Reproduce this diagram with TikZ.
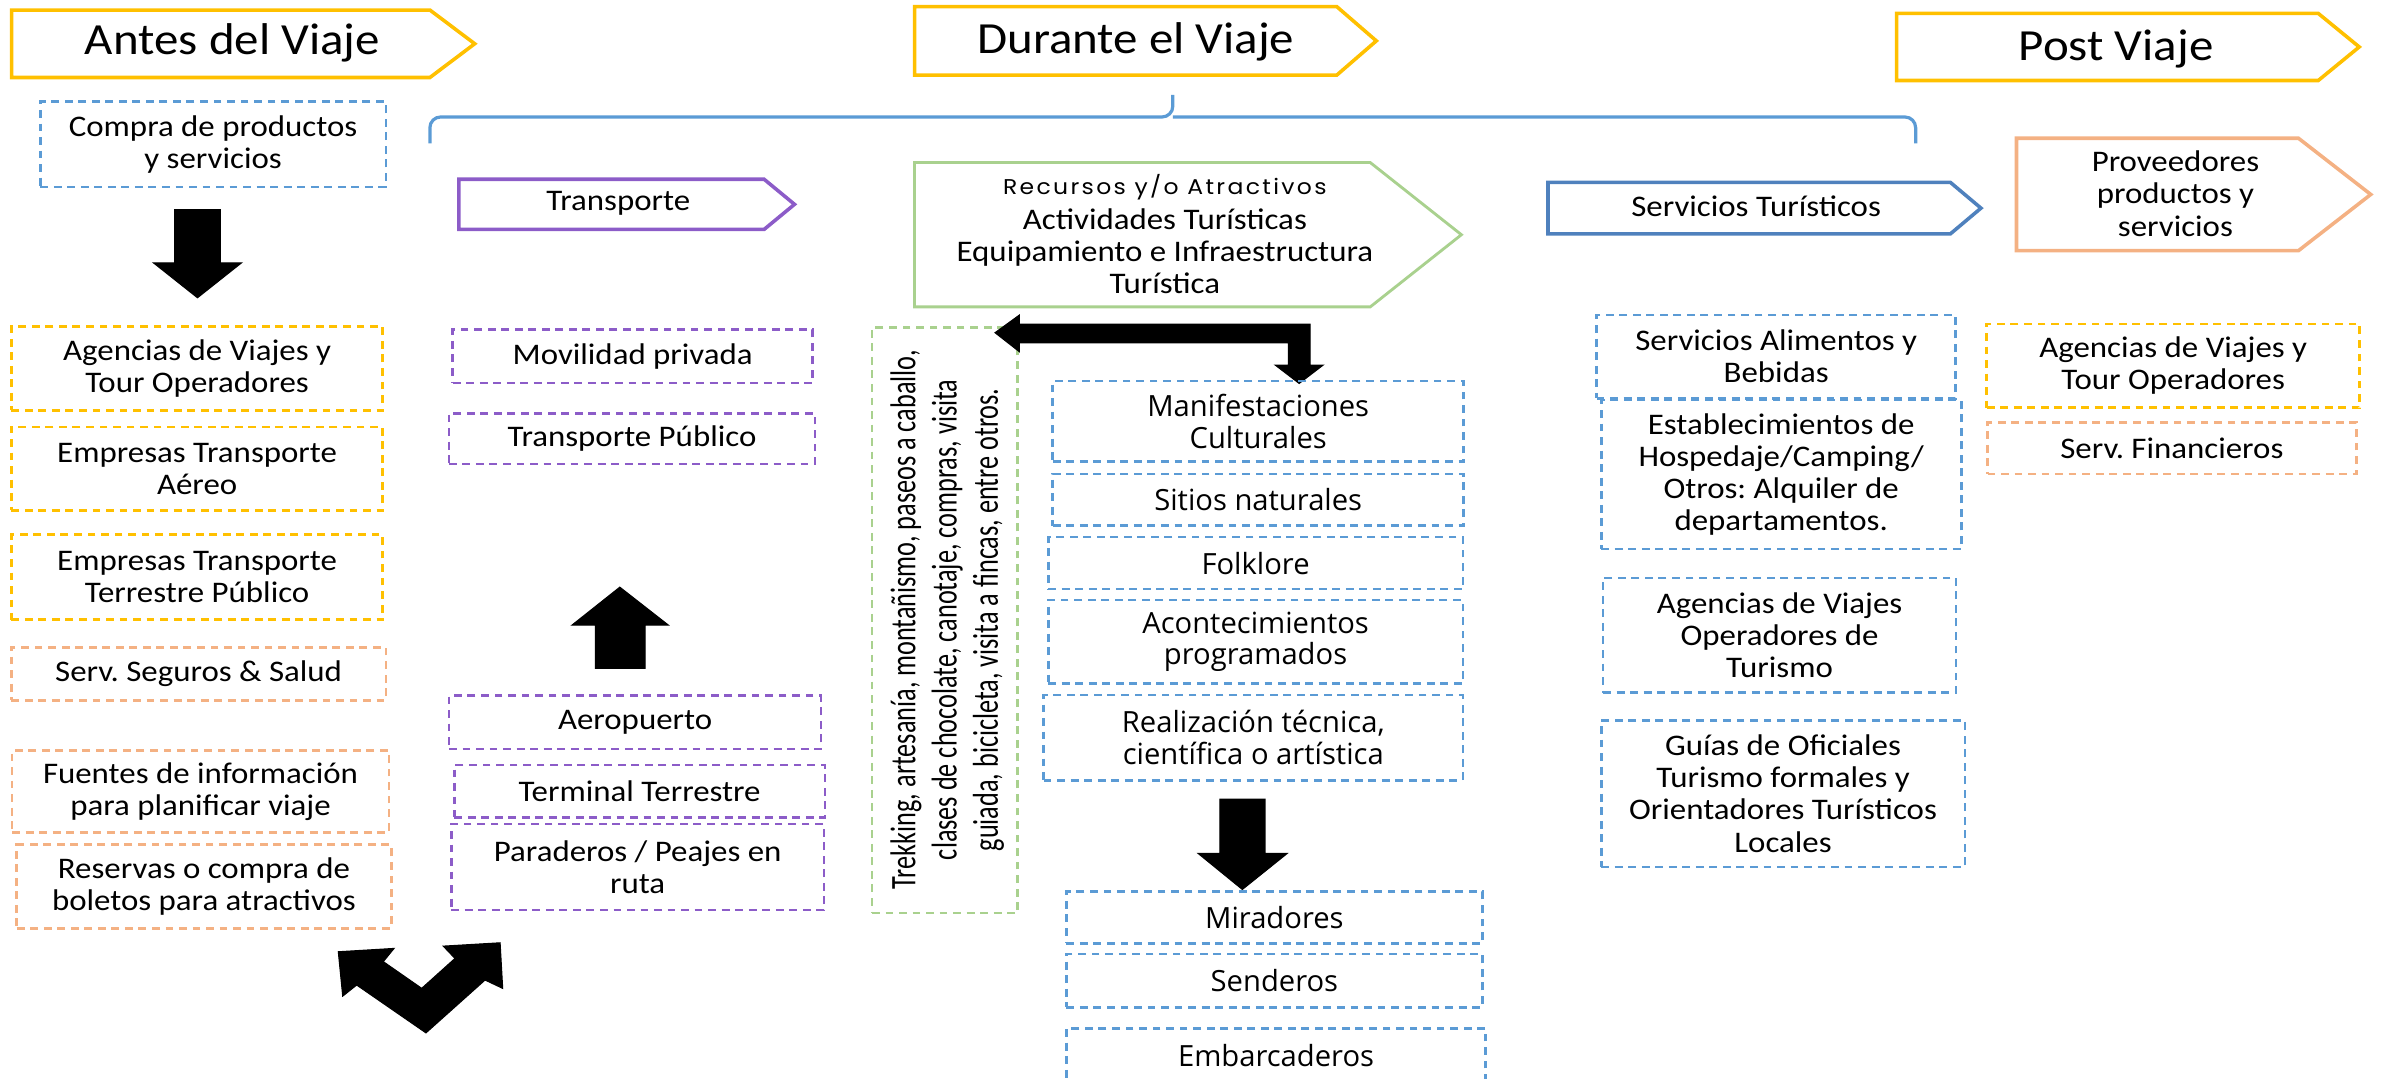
\documentclass[tikz,border=0pt]{standalone}
\usepackage{fontspec}
\setmainfont{Carlito}[FakeStretch=1.1]
\newfontfamily\osfont{Open Sans}
\newfontfamily\popfont{Poppins}[FakeStretch=1.1,LetterSpace=11]
\newfontfamily\condfont{Carlito}[FakeStretch=0.73]
\frenchspacing
\definecolor{gold}{HTML}{FFC000}
\definecolor{peach}{HTML}{F4B183}
\definecolor{bluec}{HTML}{5B9BD5}
\definecolor{bluedk}{HTML}{4F81BD}
\definecolor{purp}{HTML}{8C5CC8}
\definecolor{greenc}{HTML}{A9D18E}
\newcommand\bodyfont{\fontsize{8.4pt}{9pt}\selectfont}
\newcommand\hdrfont{\fontsize{12.5pt}{14pt}\selectfont}
% box from corner (x1,y1) to (x2,y2): style, name, x1, y1, x2, y2, text
\newcommand\bxnode[7]{\node[#1, minimum width={(#5-#3)*0.015cm}, minimum height={(#6-#4)*0.015cm}] (#2) at ({(#3+#5)/2},{(#4+#6)/2}) {#7};}
\tikzset{
  dbox/.style={draw, dash pattern=on 2.2pt off 1.6pt, line width=0.75pt, inner sep=0pt, align=center, font=\bodyfont},
  ybox/.style={dbox, draw=gold},
  pbox/.style={dbox, draw=peach},
  bbox/.style={dbox, draw=bluec},
  vbox/.style={dbox, draw=purp},
  gbox/.style={dbox, draw=greenc},
  mbox/.style={bbox, font=\osfont\fontsize{8.2pt}{8.9pt}\selectfont},
  hdr/.style={line width=1pt, line join=miter},
  hdrtext/.style={font=\hdrfont, inner sep=0pt},
  lbl/.style={font=\bodyfont, align=center, inner sep=0pt},
  blk/.style={fill=black, draw=black, line width=0.3pt, line join=miter},
  brace/.style={draw=bluec, line width=0.9pt, rounded corners=3}
}
\begin{document}
\begin{tikzpicture}[x=0.015cm, y=-0.015cm]
\useasboundingbox (0,0) rectangle (1568,710);

% ---------- headers ----------
\draw[hdr, draw=gold] (7.6,6.6) -- (283,6.6) -- (312.5,28.8) -- (283,51) -- (7.6,51) -- cycle;
\node[hdrtext] (antes) at (153,28.5) {Antes del Viaje};
\draw[hdr, draw=gold] (602,4.4) -- (880,4.4) -- (906,26.9) -- (880,49.4) -- (602,49.4) -- cycle;
\node[hdrtext] (durante) at (747.7,27.4) {Durante el Viaje};
\draw[hdr, draw=gold] (1248.5,8.8) -- (1526,8.8) -- (1553,30.9) -- (1526,53) -- (1248.5,53) -- cycle;
\node[hdrtext] (post) at (1393,32.5) {Post Viaje};

% ---------- brace ----------
\coordinate (brL) at (283,94.4);
\coordinate (brR) at (1261,94.4);
\coordinate (brC) at (772,62.5);
\draw[brace] (brL) -- (283,77) -- (772,77) -- (brC);
\draw[brace] (brR) -- (1261,77) -- (772,77);

% ---------- Antes column ----------
\bxnode{bbox}{compra}{26.5}{67}{254}{123}{Compra de productos\\y servicios}
\fill[blk] (115,138) -- (145,138) -- (145,173) -- (159,173) -- (130,196) -- (101,173) -- (115,173) -- cycle;
\bxnode{ybox}{ag1}{7.5}{215}{252}{270}{Agencias de Viajes y\\Tour Operadores}
\bxnode{ybox}{ea}{7.5}{281}{252}{336}{Empresas Transporte\\Aéreo}
\bxnode{ybox}{et}{7.5}{352}{252}{408}{Empresas Transporte\\Terrestre Público}
\bxnode{pbox}{ss}{7.5}{426}{254}{461}{Serv. Seguros \& Salud}
\bxnode{pbox}{fi}{8}{494}{256}{548}{Fuentes de información\\para planificar viaje}
\bxnode{pbox}{rc}{11}{556}{257.5}{611}{Reservas o compra de\\boletos para atractivos}
\fill[blk] (222.7,626.5) -- (259.4,624.3) -- (252.3,633.0) -- (277.6,650.6) -- (299.5,630.9) -- (291.8,622.8) -- (329.2,620.6) -- (330.9,650.6) -- (319.3,645.1) -- (280.4,679.9) -- (234.8,648.4) -- (225.6,655.7) -- cycle;

% ---------- Transporte column ----------
\draw[hdr, draw=purp] (302,118) -- (503,118) -- (523,134.5) -- (503,151) -- (302,151) -- cycle;
\node[lbl] (transp) at (407,134) {Transporte};
\bxnode{vbox}{mp}{298}{217}{535}{252}{Movilidad privada}
\bxnode{vbox}{tp}{295.5}{272}{536.5}{305.5}{Transporte Público}
\fill[blk] (392,440) -- (424.6,440) -- (424.6,411.5) -- (440,411.5) -- (408,386.5) -- (376.5,411.5) -- (392,411.5) -- cycle;
\bxnode{vbox}{ae}{295.6}{458}{540.5}{493}{Aeropuerto}
\bxnode{vbox}{tt}{299}{503.6}{543}{538}{Terminal Terrestre}
\bxnode{vbox}{pp}{297}{542.5}{542.5}{599}{Paraderos / Peajes en\\ruta}

% ---------- Recursos column ----------
\draw[line width=0.8pt, draw=greenc, line join=miter] (602,107) -- (902,107) -- (962,154.5) -- (902,202) -- (602,202) -- cycle;
\node[inner sep=0pt, font=\popfont\fontsize{6pt}{7pt}\selectfont] (recursos) at (766.8,123.3) {Recursos y/o Atractivos};
\node[lbl] (activ) at (766.8,165.5) {Actividades Turísticas\\Equipamiento e Infraestructura\\Turística};
\bxnode{gbox}{gv}{574}{215.7}{670}{601}{}
\node[rotate=90, align=center, inner sep=0pt, font=\condfont\fontsize{10.1pt}{11.6pt}\selectfont] (gvt) at (623.5,408) {Trekking, artesanía, montañismo, paseos a caballo,\\clases de chocolate, canotaje, compras, visita\\guiada, bicicleta, visita a fincas, entre otros.};
\fill[blk] (655,219) -- (671,207.4) -- (671,213.3) -- (862.4,213.3) -- (862.4,240.3) -- (871,240.3) -- (855.2,252.4) -- (839.4,240.3) -- (848.1,240.3) -- (848.1,225.6) -- (671,225.6) -- (671,231.5) -- cycle;
\bxnode{mbox}{mc}{693}{250.8}{963.5}{304}{Manifestaciones\\Culturales}
\bxnode{mbox}{sn}{693}{312}{963.5}{346}{Sitios naturales}
\bxnode{mbox}{fo}{690}{353.5}{963}{387.8}{Folklore}
\bxnode{mbox}{ac}{690}{395}{963}{450}{Acontecimientos\\programados}
\bxnode{mbox}{re}{687}{457.5}{963}{513.6}{Realización técnica,\\científica o artística}
\fill[blk] (803,526) -- (832.7,526) -- (832.7,561.8) -- (847.3,561.8) -- (817.8,585.5) -- (788.7,561.8) -- (803,561.8) -- cycle;
\bxnode{mbox}{mi}{702}{587}{975.8}{621}{Miradores}
\bxnode{mbox}{se}{702}{628}{975.8}{663}{Senderos}
\bxnode{mbox}{emb}{702}{677}{978}{712.2}{Embarcaderos}

% ---------- Servicios column ----------
\draw[hdr, draw=bluedk] (1019,120) -- (1283.8,120) -- (1304,137) -- (1283.8,154) -- (1019,154) -- cycle;
\node[lbl] (servt) at (1156,136) {Servicios Turísticos};
\bxnode{bbox}{sa}{1051}{207.4}{1287.4}{262.2}{Servicios Alimentos y\\Bebidas}
\bxnode{bbox}{es}{1054}{263.3}{1291}{361.4}{Establecimientos de\\Hospedaje/Camping/\\Otros: Alquiler de\\departamentos.}
\bxnode{bbox}{av}{1055.3}{380.4}{1287.6}{456}{Agencias de Viajes\\Operadores de\\Turismo}
\bxnode{bbox}{gu}{1054}{474.3}{1293.4}{570.6}{Guías de Oficiales\\Turismo formales y\\Orientadores Turísticos\\Locales}

% ---------- Post column ----------
\draw[hdr, draw=peach] (1327.4,91) -- (1513,91) -- (1560.6,128) -- (1513,165) -- (1327.4,165) -- cycle;
\node[lbl] (prov) at (1432,127.5) {Proveedores\\productos y\\servicios};
\bxnode{ybox}{pa}{1307.8}{213.3}{1553.3}{268.4}{Agencias de Viajes y\\Tour Operadores}
\bxnode{pbox}{sf}{1308.3}{278}{1551}{312}{Serv. Financieros}
\end{tikzpicture}
\end{document}
